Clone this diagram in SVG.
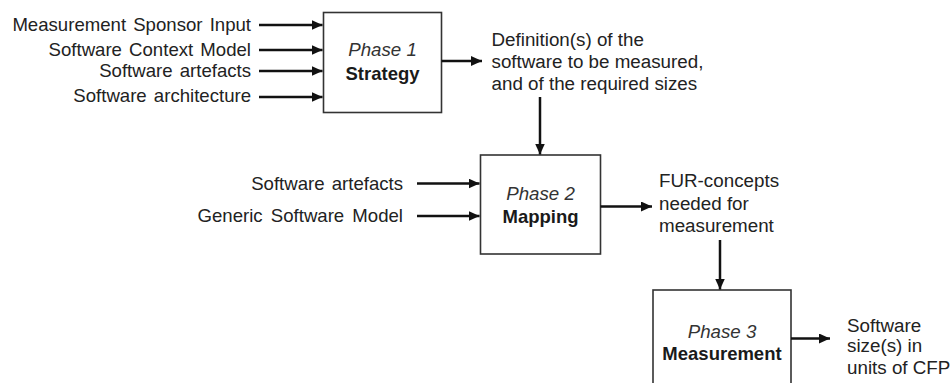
<svg xmlns="http://www.w3.org/2000/svg" width="951" height="383" viewBox="0 0 951 383">
  <style>
    .box { fill: #ffffff; stroke: #333333; stroke-width: 1.6; }
    .lbl { font-family: "Liberation Sans", Arial, sans-serif; font-size: 18.6px; fill: #222222; }
    .out { font-family: "Liberation Sans", Arial, sans-serif; font-size: 18.8px; fill: #222222; }
    .ph  { font-family: "Liberation Sans", Arial, sans-serif; font-size: 18.7px; font-style: italic; fill: #333333; text-anchor: middle; }
    .nm  { font-family: "Liberation Sans", Arial, sans-serif; font-size: 18.5px; font-weight: bold; fill: #1a1a1a; text-anchor: middle; }
    .arr { stroke: #111111; stroke-width: 2.5; fill: none; marker-end: url(#head); }
  </style>
  <defs>
    <marker id="head" markerUnits="userSpaceOnUse" markerWidth="12" markerHeight="10" refX="11" refY="5" orient="auto">
      <path d="M0,0 L11,5 L0,10 z" fill="#111111"/>
    </marker>
  </defs>
  <rect width="951" height="383" fill="#ffffff"/>

  <!-- input labels -->
  <g id="inputs" class="lbl" text-anchor="end">
    <text x="251" y="31" word-spacing="2">Measurement Sponsor Input</text>
    <text x="251" y="55.5" word-spacing="2">Software Context Model</text>
    <text x="251" y="76.5" word-spacing="2">Software artefacts</text>
    <text x="251" y="102" word-spacing="2">Software architecture</text>
    <text x="403" y="189.5" word-spacing="2">Software artefacts</text>
    <text x="403" y="222" word-spacing="3">Generic Software Model</text>
  </g>

  <!-- phase boxes -->
  <g id="phase1">
    <rect class="box" x="323.5" y="12.5" width="118" height="100"/>
    <text class="ph" x="382.5" y="56">Phase 1</text>
    <text class="nm" x="382.5" y="80">Strategy</text>
  </g>
  <g id="phase2">
    <rect class="box" x="480.5" y="155" width="120" height="99"/>
    <text class="ph" x="540.5" y="199.5">Phase 2</text>
    <text class="nm" x="540.5" y="223">Mapping</text>
  </g>
  <g id="phase3">
    <rect class="box" x="653" y="290" width="138" height="110"/>
    <text class="ph" x="722" y="337.5">Phase 3</text>
    <text class="nm" x="722" y="359.5">Measurement</text>
  </g>

  <!-- outputs of each phase -->
  <g id="out1" class="out">
    <text x="491.5" y="45.5">Definition(s) of the</text>
    <text x="491.5" y="68">software to be measured,</text>
    <text x="491.5" y="90">and of the required sizes</text>
  </g>
  <g id="out2" class="out">
    <text x="659" y="187">FUR-concepts</text>
    <text x="659" y="209.5">needed for</text>
    <text x="659" y="232">measurement</text>
  </g>
  <g id="out3" class="out" font-size="18.4px">
    <text x="847" y="331.5">Software</text>
    <text x="847" y="352">size(s) in</text>
    <text x="847" y="373.5">units of CFP</text>
  </g>

  <!-- connectors -->
  <g id="connectors">
    <line class="arr" x1="259" y1="25" x2="322.5" y2="25"/>
    <line class="arr" x1="259" y1="50" x2="322.5" y2="50"/>
    <line class="arr" x1="259" y1="71" x2="322.5" y2="71"/>
    <line class="arr" x1="259" y1="97" x2="322.5" y2="97"/>
    <line class="arr" x1="441.5" y1="61" x2="482" y2="61"/>
    <line class="arr" x1="540" y1="97" x2="540" y2="154.5"/>
    <line class="arr" x1="417" y1="183.5" x2="479.5" y2="183.5"/>
    <line class="arr" x1="417" y1="216" x2="479.5" y2="216"/>
    <line class="arr" x1="600.5" y1="206.5" x2="652" y2="206.5"/>
    <line class="arr" x1="720" y1="240" x2="720" y2="289.5"/>
    <line class="arr" x1="791" y1="338.5" x2="830" y2="338.5"/>
  </g>
</svg>
